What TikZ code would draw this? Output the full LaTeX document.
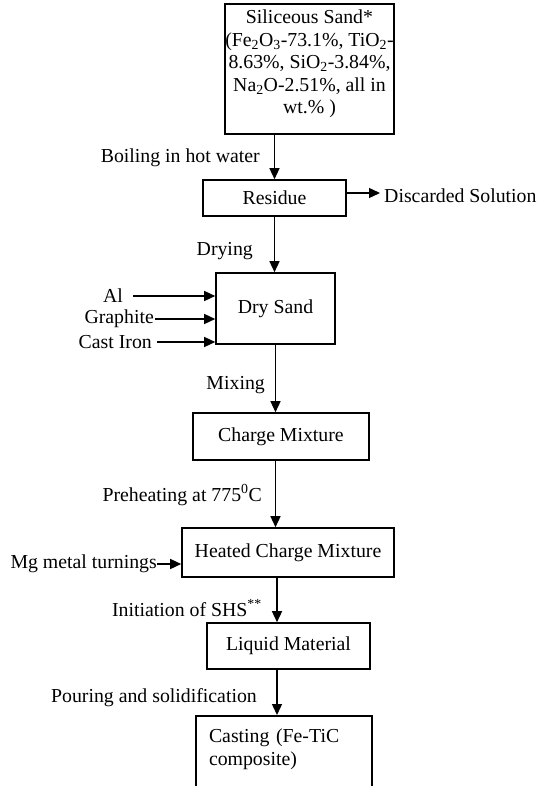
\documentclass[tikz,border=0pt]{standalone}
\usepackage{fontspec}
\setmainfont{Liberation Serif}
\usetikzlibrary{arrows.meta,positioning,calc}

\begin{document}
\begin{tikzpicture}[x=1pt, y=-1pt, font=\fontsize{19.8}{22.5}\selectfont,
                    >={Triangle[length=11pt,width=10pt]}]
\tikzstyle{box}=[draw, line width=1.6pt, inner sep=0pt, align=center]
\tikzstyle{lbl}=[inner sep=0pt]
\tikzstyle{flow}=[->, line width=1.4pt]
\useasboundingbox (0,0) rectangle (545,786);
\clip (0,0) rectangle (545,786);
% process boxes
\node[box, minimum width=117pt, minimum height=130pt] (sand) at (309.5,69)
  {Siliceous Sand*\\ (Fe\textsubscript{2}O\textsubscript{3}-73.1\%, TiO\textsubscript{2}-\\
   8.63\%, SiO\textsubscript{2}-3.84\%,\\ Na\textsubscript{2}O-2.51\%, all in\\ wt.\% )\\[-8pt]\mbox{}};
\node[box, minimum width=143pt, minimum height=36pt] (residue) at (274.5,198) {Residue};
\node[box, minimum width=119pt, minimum height=71pt] (drysand) at (275.5,308.5) {Dry Sand};
\node[box, minimum width=176pt, minimum height=47pt] (charge) at (281,436.5) {Charge Mixture};
\node[box, minimum width=212pt, minimum height=49pt] (heated) at (288,552.5) {Heated Charge Mixture};
\node[box, minimum width=163pt, minimum height=46pt] (liquid) at (288.5,646) {Liquid Material};
\node[box, minimum width=176pt, minimum height=100pt, anchor=north, align=left,
      text width=150pt] (casting) at (284,715) {Casting (Fe-TiC\\ composite)\\[15pt]\mbox{}};
% side inputs and outputs
\node[lbl, anchor=west] (waste) at (384,196) {Discarded Solution};
\node[lbl, anchor=east] (al) at (123,296) {Al};
\node[lbl, anchor=east] (graphite) at (154,319) {Graphite};
\node[lbl, anchor=east] (castiron) at (152,342) {Cast Iron};
\node[lbl, anchor=east] (mg) at (157,564) {Mg metal turnings};
% step labels
\node[lbl, anchor=east] (boil) at (260,158) {Boiling in hot water};
\node[lbl, anchor=east] (dry) at (253,251) {Drying};
\node[lbl, anchor=east] (mix) at (265,385) {Mixing};
\node[lbl, anchor=east] (preheat) at (262,495) {Preheating at 775\textsuperscript{0}C};
\node[lbl, anchor=east] (shs) at (262,608) {Initiation of SHS\textsuperscript{**}};
\node[lbl, anchor=east] (pour) at (257,698) {Pouring and solidification};
\coordinate (axis) at (277,0);
% connectors
\draw[flow] (sand.south -| residue.north) -- (residue.north);
\draw[flow] ($(residue.east)+(0,-5)$) -- ($(residue.east -| waste.west)+(-4,-5)$);
\draw[flow] (residue.south) -- (residue.south |- drysand.north);
\draw[flow] ([xshift=10pt]al.east) -- (drysand.west |- al.east);
\draw[flow] ([xshift=1pt]graphite.east) -- (drysand.west |- graphite.east);
\draw[flow] ([xshift=5pt]castiron.east) -- (drysand.west |- castiron.east);
\draw[flow] (drysand.south) -- (drysand.south |- charge.north);
\draw[flow] (charge.south -| drysand.south) -- (heated.north -| drysand.south);
\draw[flow] (mg.east) -- (heated.west |- mg.east);
\draw[flow] (heated.south -| axis) -- (liquid.north -| axis);
\draw[flow] (liquid.south -| axis) -- (casting.north -| axis);
\end{tikzpicture}
\end{document}
